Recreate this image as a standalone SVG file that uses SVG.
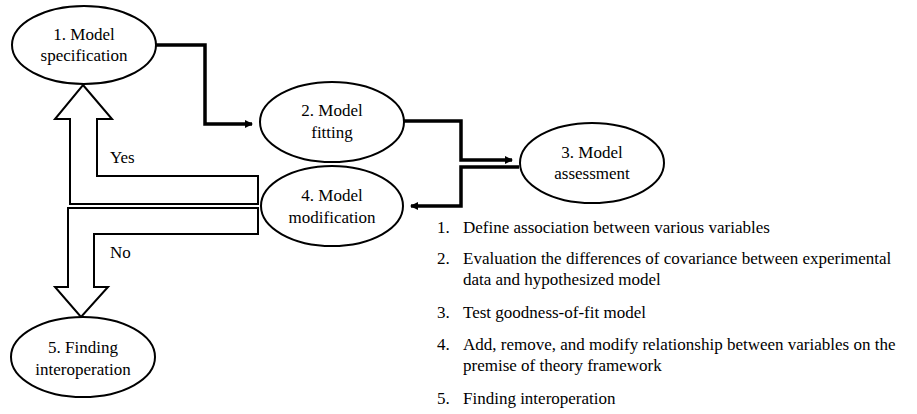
<svg xmlns="http://www.w3.org/2000/svg" width="917" height="414" viewBox="0 0 917 414">
<defs>
<marker id="ah" markerWidth="8" markerHeight="8" refX="7" refY="4" orient="auto" markerUnits="userSpaceOnUse">
<path d="M0,0 L8,4 L0,8 Z" fill="#000"/>
</marker>
</defs>
<rect width="917" height="414" fill="#fff"/>
<g id="connectors" fill="none" stroke="#000">
<polyline stroke-width="3.5" points="155,45 205,45 205,124 252,124" marker-end="url(#ah)"/>
<polyline stroke-width="3.5" points="403,121 461,121 461,160 512,160" marker-end="url(#ah)"/>
<polyline stroke-width="3.5" points="519,167 461,167 461,206 411,206" marker-end="url(#ah)"/>
<polygon fill="#fff" stroke-width="2" points="83,85 112,119 97,119 97,176 258,176 258,204 70,204 70,119 55,119"/>
<polygon fill="#fff" stroke-width="2" points="68,208 258,208 258,234 94,234 94,287 108,287 81,317 55,287 68,287"/>
</g>
<g font-family="Liberation Serif" font-size="17" fill="#000">
<text x="110" y="163">Yes</text>
<text x="110" y="258">No</text>
</g>
<g fill="#fff" stroke="#000" stroke-width="2">
<g id="n1"><ellipse cx="84" cy="45" rx="72" ry="39"/><text x="84" y="40" text-anchor="middle" font-family="Liberation Serif" font-size="17" fill="#000" stroke="none">1. Model</text><text x="84" y="61" text-anchor="middle" font-family="Liberation Serif" font-size="17" fill="#000" stroke="none">specification</text></g>
<g id="n2"><ellipse cx="332" cy="122" rx="72" ry="40"/><text x="332" y="116" text-anchor="middle" font-family="Liberation Serif" font-size="17" fill="#000" stroke="none">2. Model</text><text x="332" y="138" text-anchor="middle" font-family="Liberation Serif" font-size="17" fill="#000" stroke="none">fitting</text></g>
<g id="n3"><ellipse cx="592" cy="163" rx="72" ry="40"/><text x="592" y="158" text-anchor="middle" font-family="Liberation Serif" font-size="17" fill="#000" stroke="none">3. Model</text><text x="592" y="179" text-anchor="middle" font-family="Liberation Serif" font-size="17" fill="#000" stroke="none">assessment</text></g>
<g id="n4"><ellipse cx="332" cy="206" rx="71" ry="40"/><text x="332" y="201" text-anchor="middle" font-family="Liberation Serif" font-size="17" fill="#000" stroke="none">4. Model</text><text x="332" y="223" text-anchor="middle" font-family="Liberation Serif" font-size="17" fill="#000" stroke="none">modification</text></g>
<g id="n5"><ellipse cx="83" cy="357" rx="72" ry="40"/><text x="83" y="353" text-anchor="middle" font-family="Liberation Serif" font-size="17" fill="#000" stroke="none">5. Finding</text><text x="83" y="375" text-anchor="middle" font-family="Liberation Serif" font-size="17" fill="#000" stroke="none">interoperation</text></g>
</g>
<g id="list" font-family="Liberation Serif" font-size="17" fill="#000">
<text x="437" y="233">1.</text><text x="463" y="233">Define association between various variables</text>
<text x="437" y="264">2.</text><text x="463" y="264">Evaluation the differences of covariance between experimental</text>
<text x="463" y="285">data and hypothesized model</text>
<text x="437" y="318">3.</text><text x="463" y="318">Test goodness-of-fit model</text>
<text x="437" y="350">4.</text><text x="463" y="350">Add, remove, and modify relationship between variables on the</text>
<text x="463" y="371">premise of theory framework</text>
<text x="437" y="404">5.</text><text x="463" y="404">Finding interoperation</text>
</g>
</svg>
